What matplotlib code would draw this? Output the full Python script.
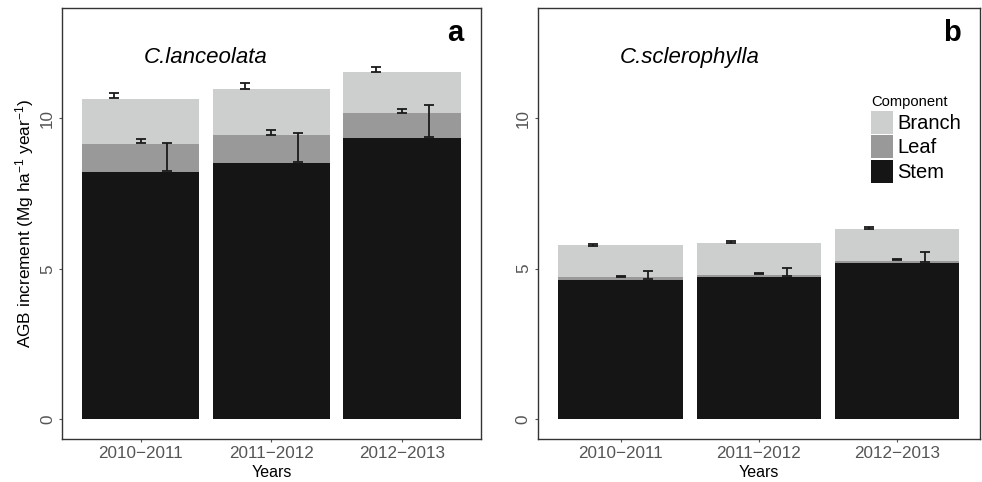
import numpy as np
import matplotlib.pyplot as plt
from matplotlib.patches import Patch

plt.rcParams['font.family'] = ['Liberation Sans', 'DejaVu Sans']
plt.rcParams['mathtext.fontset'] = 'custom'
plt.rcParams['mathtext.rm'] = 'Liberation Sans'
plt.rcParams['mathtext.default'] = 'regular'

years = ['2010\u22122011', '2011\u22122012', '2012\u22122013']
components = ['Branch', 'Leaf', 'Stem']
colors = {'Stem': '#151515', 'Leaf': '#999999', 'Branch': '#cdcfce'}

# C. lanceolata: stacked component increments (Mg ha-1 yr-1)
lan_stem = [8.22, 8.52, 9.35]
lan_leaf = [0.93, 0.93, 0.83]
lan_branch = [1.49, 1.52, 1.36]
# error bar ends (low, high) for each component
lan_err_branch = [(10.67, 10.82), (10.98, 11.15), (11.52, 11.71)]
lan_err_leaf = [(9.17, 9.31), (9.45, 9.59), (10.17, 10.30)]
lan_err_stem = [(8.24, 9.16), (8.53, 9.49), (9.36, 10.42)]

# C. sclerophylla
scl_stem = [4.64, 4.74, 5.20]
scl_leaf = [0.10, 0.06, 0.07]
scl_branch = [1.06, 1.06, 1.06]
scl_err_branch = [(5.76, 5.82), (5.86, 5.92), (6.33, 6.39)]
scl_err_leaf = [(4.73, 4.77), (4.82, 4.86), (5.28, 5.32)]
scl_err_stem = [(4.65, 4.91), (4.75, 5.01), (5.21, 5.57)]


def draw_panel(ax, stem, leaf, branch, err_branch, err_leaf, err_stem, species, tag):
    x = np.arange(1, len(years) + 1)
    stem = np.array(stem)
    leaf = np.array(leaf)
    branch = np.array(branch)
    ax.bar(x, stem, width=0.9, color=colors['Stem'], zorder=2)
    ax.bar(x, leaf, width=0.9, bottom=stem, color=colors['Leaf'], zorder=2)
    ax.bar(x, branch, width=0.9, bottom=stem + leaf, color=colors['Branch'], zorder=2)

    # dodged error bars: branch left, leaf centre, stem right
    for off, err in [(-0.2, err_branch), (0.0, err_leaf), (0.2, err_stem)]:
        lo = np.array([e[0] for e in err])
        hi = np.array([e[1] for e in err])
        mid = (lo + hi) / 2
        ax.errorbar(x + off, mid, yerr=[mid - lo, hi - mid], fmt='none',
                    ecolor='#1a1a1a', elinewidth=1.3, capsize=3.3, capthick=1.3, zorder=3)

    ax.set_xlim(0.4, 3.6)
    ax.set_ylim(-0.65, 13.65)
    ax.set_xticks(x)
    ax.set_xticklabels(years)
    ax.set_yticks([0, 5, 10])
    ax.tick_params(axis='both', length=2.5, width=0.8, color='#555555',
                   labelcolor='#555555', labelsize=12.3, pad=2.5)
    for lab in ax.get_yticklabels():
        lab.set_rotation(90)
        lab.set_va('center')
        lab.set_ha('right')
    for sp in ax.spines.values():
        sp.set_color('#333333')
        sp.set_linewidth(1.0)
    ax.set_xlabel('Years', fontsize=11.5, labelpad=3)
    ax.text(1.5, 12.0, species, style='italic', fontsize=16, ha='center', va='center')
    ax.text(3.4, 12.55, tag, fontweight='bold', fontsize=21, ha='center', va='baseline')


fig = plt.figure(figsize=(9.82, 4.82), dpi=100)
ax_a = fig.add_axes([0.0631, 0.0892, 0.4267, 0.894])
ax_b = fig.add_axes([0.5476, 0.0896, 0.4504, 0.8934])

draw_panel(ax_a, lan_stem, lan_leaf, lan_branch, lan_err_branch, lan_err_leaf, lan_err_stem,
           'C.lanceolata', 'a')
draw_panel(ax_b, scl_stem, scl_leaf, scl_branch, scl_err_branch, scl_err_leaf, scl_err_stem,
           'C.sclerophylla', 'b')

ax_a.set_ylabel('AGB increment (Mg ha$^{-1}$ year$^{-1}$)', fontsize=12.4, labelpad=3)

handles = [Patch(facecolor=colors[c], edgecolor='none') for c in components]
leg = ax_b.legend(handles, components, title='Component', loc='upper left',
                  bbox_to_anchor=(871 / 982, 1 - 95 / 482), bbox_transform=fig.transFigure,
                  frameon=False, fontsize=14.5, title_fontsize=10.6,
                  handlelength=1.1, handleheight=1.38, handletextpad=0.2,
                  labelspacing=0.08, borderpad=0, borderaxespad=0, alignment='left')

fig.savefig('out.png', dpi=100)
